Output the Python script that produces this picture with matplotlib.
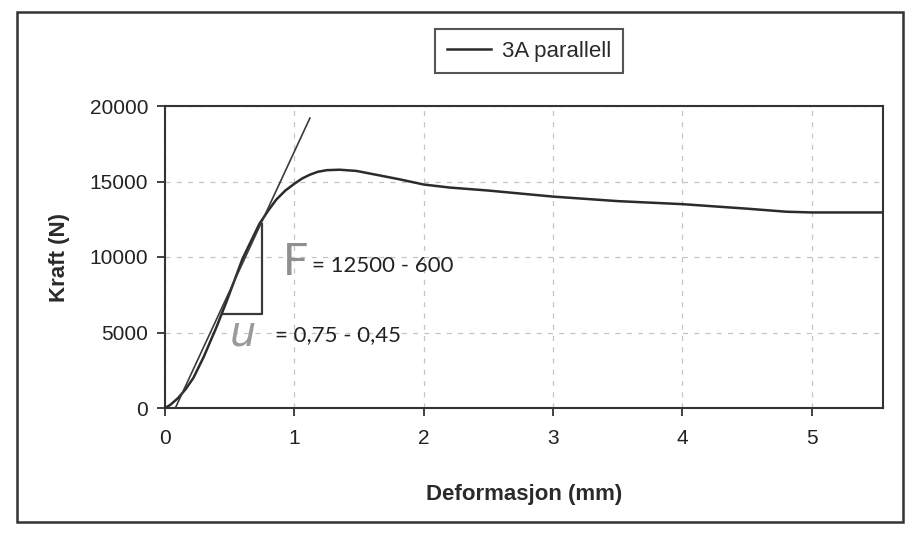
import matplotlib
matplotlib.use("Agg")
import matplotlib.pyplot as plt
from matplotlib.patches import Rectangle

# Data
deform = [0, 0.04, 0.1, 0.16, 0.22, 0.3, 0.4, 0.48, 0.6, 0.73, 0.8, 0.86, 0.93, 1.0,
          1.06, 1.12, 1.18, 1.25, 1.35, 1.48, 1.6, 1.81, 2.0, 2.2, 2.5, 3.0, 3.5,
          4.0, 4.5, 4.8, 5.0, 5.55]
force = [0, 200, 650, 1250, 2000, 3400, 5400, 7150, 9900, 12200, 13100, 13800, 14400, 14850,
         15200, 15450, 15640, 15750, 15780, 15700, 15500, 15150, 14800, 14600, 14400, 14000, 13700,
         13500, 13200, 13000, 12950, 12950]
tangent_x = [0.08, 1.12]
tangent_y = [0, 19200]
tri_x = [0.45, 0.75, 0.75]
tri_y = [6200, 6200, 12200]
x_ticks = [0, 1, 2, 3, 4, 5]
y_ticks = [0, 5000, 10000, 15000, 20000]
series_label = "3A parallell"

W, H = 912, 540
fig = plt.figure(figsize=(W / 100, H / 100), dpi=100)
fig.patch.set_facecolor("white")

left, right, top, bottom = 165, 883, 106, 408
ax = fig.add_axes([left / W, 1 - bottom / H, (right - left) / W, (bottom - top) / H])

ax.plot(deform, force, color="#2b2b2b", lw=1.8, label=series_label, zorder=3,
        solid_joinstyle="round")
ax.plot(tangent_x, tangent_y, color="#3a3a3a", lw=1.2, zorder=3)
ax.plot(tri_x, tri_y, color="#3a3a3a", lw=1.6, zorder=3)

ax.set_xlim(0, 5.55)
ax.set_ylim(0, 20000)
ax.set_xticks(x_ticks)
ax.set_yticks(y_ticks)
ax.set_xticklabels([str(v) for v in x_ticks])
ax.set_yticklabels([str(v) for v in y_ticks])

for lab in ax.get_xticklabels() + ax.get_yticklabels():
    lab.set_fontfamily(["Liberation Sans", "DejaVu Sans"])
    lab.set_fontsize(15)
    lab.set_color("#222222")

ax.tick_params(axis="both", direction="out", length=6, width=1.3, color="#333333", pad=6)
ax.tick_params(axis="x", pad=9)
ax.grid(True, color="#c4c4c4", lw=0.9, ls=(0, (4, 5)))
ax.set_axisbelow(True)
for s in ax.spines.values():
    s.set_color("#333333")
    s.set_linewidth(1.5)

ax.set_xlabel("Deformasjon (mm)", fontsize=16, fontweight="bold",
              family=["Liberation Sans", "DejaVu Sans"], color="#2a2a2a", labelpad=26)
ax.set_ylabel("Kraft (N)", fontsize=16, fontweight="bold",
              family=["Liberation Sans", "DejaVu Sans"], color="#2a2a2a", labelpad=14)

# Annotations
ax.text(0.91, 9650, "F", fontsize=32, color="#8f8f8f", family=["Lato", "DejaVu Sans"],
        va="center", ha="left")
ax.text(1.135, 9400, "= 12500 - 600", fontsize=16, color="#222222",
        family=["Lato", "DejaVu Sans"], va="center", ha="left")
ax.text(0.50, 4950, "u", fontsize=30, color="#9a9a9a", family=["DejaVu Sans"],
        style="italic", va="center", ha="left")
ax.text(0.85, 4830, "= 0,75 - 0,45", fontsize=16, color="#222222",
        family=["Lato", "DejaVu Sans"], va="center", ha="left")

# Legend above the plot
leg = fig.legend(loc="center", bbox_to_anchor=(529 / W, 1 - 51 / H), frameon=True,
                 fancybox=False, handlelength=2.0, handletextpad=0.5, borderpad=0.5,
                 prop={"family": ["Liberation Sans", "DejaVu Sans"], "size": 16})
leg.get_frame().set_edgecolor("#2a2a2a")
leg.get_frame().set_linewidth(1.5)
for t in leg.get_texts():
    t.set_color("#2a2a2a")

# Outer chart frame
fig.patches.append(Rectangle((17 / W, 1 - 522 / H), (903 - 17) / W, (522 - 12) / H,
                             transform=fig.transFigure, fill=False,
                             edgecolor="#333333", lw=1.8))

fig.savefig("out.png", dpi=100, facecolor="white")
